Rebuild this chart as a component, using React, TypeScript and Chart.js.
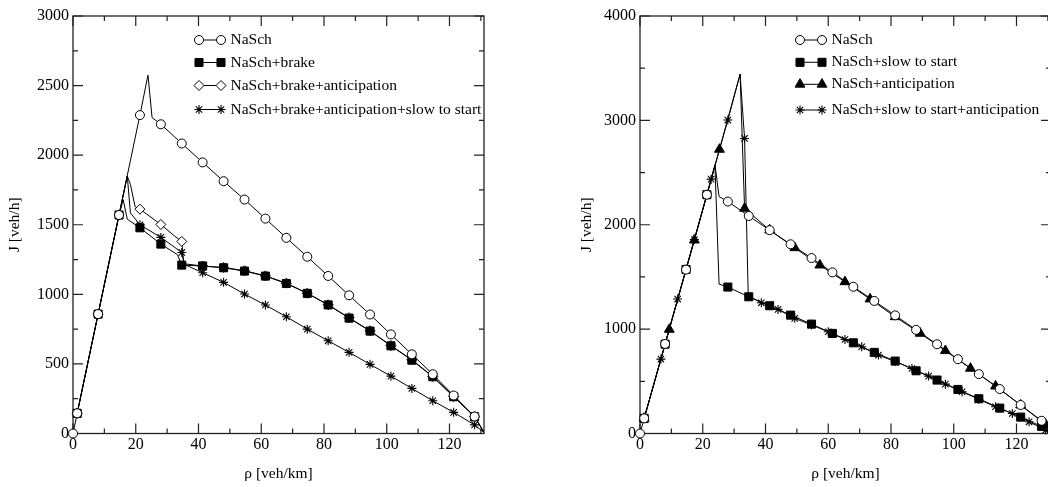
import React, { useEffect, useRef } from 'react';
import { Chart, registerables } from 'chart.js';
import { drawPoint } from 'chart.js/helpers';

Chart.register(...registerables);

const FONT = "'Liberation Serif', 'Times New Roman', Times, serif";

// ---------- shared axis info ----------
const X_MAX = 131;
const X_TICK_STEP = 20;
const X_MINOR_STEP = 10;

// ---------- NaSch (both panels) ----------
const naschRho = [0, 1.33, 8, 14.67, 21.33, 28, 34.67, 41.33, 48, 54.67, 61.33, 68, 74.67, 81.33, 88, 94.67, 101.33, 108, 114.67, 121.33, 128];
const naschJ = [0, 145, 858, 1570, 2288, 2222, 2084, 1948, 1813, 1681, 1544, 1406, 1270, 1132, 993, 855, 712, 569, 426, 273, 122];
const naschBendRho = [23.9, 25.2, 130.8];
const naschBendJ = [2575, 2270, 15];

// ---------- left panel ----------
const leftRho = [1.33, 8, 14.67, 21.33, 28, 34.67, 41.33, 48, 54.67, 61.33, 68, 74.67, 81.33, 88, 94.67, 101.33, 108, 114.67, 121.33, 128];

const brakeJ = [145, 858, 1570, 1478, 1361, 1210, 1204, 1191, 1167, 1131, 1078, 1007, 924, 829, 736, 630, 527, 408, 264, 120];
const brakeBendRho = [16.0, 17.3, 33.3, 130.8];
const brakeBendJ = [1680, 1540, 1285, 15];

const brakeAnticJ = [145, 858, 1570, 1612, 1502, 1380, 1203, 1193, 1170, 1133, 1080, 1008, 925, 832, 738, 632, 530, 410, 266, 122];
const brakeAnticBendRho = [17.3, 18.3, 19.8, 32.3, 35.3, 130.8];
const brakeAnticBendJ = [1850, 1790, 1630, 1420, 1220, 15];

const brakeAnticStsJ = [145, 858, 1570, 1500, 1409, 1301, 1155, 1086, 1002, 923, 839, 750, 666, 583, 497, 412, 324, 235, 152, 62];
const brakeAnticStsBendRho = [17.3, 18.3, 35.5, 130.8];
const brakeAnticStsBendJ = [1850, 1585, 1215, 10];

const leftLabels = ['NaSch', 'NaSch+brake', 'NaSch+brake+anticipation', 'NaSch+brake+anticipation+slow to start'];

// ---------- right panel ----------
const stsRho = [1.33, 8, 14.67, 21.33, 28, 34.67, 41.33, 48, 54.67, 61.33, 68, 74.67, 81.33, 88, 94.67, 101.33, 108, 114.67, 121.33, 128];
const stsJ = [145, 856, 1572, 2288, 1403, 1310, 1224, 1134, 1048, 959, 869, 777, 694, 601, 512, 422, 333, 243, 157, 68];
const stsBendRho = [23.9, 25.2, 130.8];
const stsBendJ = [2565, 1431, 5];

const anticRho = [1.33, 9.33, 17.33, 25.33, 33.33, 41.33, 49.33, 57.33, 65.33, 73.33, 81.33, 89.33, 97.33, 105.33, 113.33, 121.33, 129.33];
const anticJ = [145, 997, 1853, 2722, 2157, 1949, 1779, 1613, 1453, 1288, 1118, 959, 793, 624, 454, 272, 85];
const anticBendRho = [31.9];
const anticBendJ = [3443];

const stsAnticRho = [1.33, 6.67, 12, 17.33, 22.67, 28, 33.33, 38.67, 44, 49.33, 54.67, 60, 65.33, 70.67, 76, 81.33, 86.67, 92, 97.33, 102.67, 108, 113.33, 118.67, 124, 129.33];
const stsAnticJ = [145, 713, 1288, 1858, 2437, 3003, 2827, 1252, 1189, 1103, 1040, 975, 901, 831, 751, 690, 623, 550, 473, 400, 328, 256, 192, 112, 33];
const stsAnticBendRho = [31.9, 34.5];
const stsAnticBendJ = [3443, 1320];

const rightLabels = ['NaSch', 'NaSch+slow to start', 'NaSch+anticipation', 'NaSch+slow to start+anticipation'];

// ---------- helpers ----------
type Pt = { x: number; y: number; m: boolean };
function buildPoints(rho: number[], J: number[], bendRho: number[], bendJ: number[]): Pt[] {
  const pts: Pt[] = rho
    .map((x, i) => ({ x, y: J[i], m: true }))
    .concat(bendRho.map((x, i) => ({ x, y: bendJ[i], m: false })));
  pts.sort((a, b) => a.x - b.x);
  return pts;
}

type Mk = { pointStyle: string; radius: number; fill: string; bw: number };
const CIRCLE: Mk = { pointStyle: 'circle', radius: 4.5, fill: '#ffffff', bw: 1 };
const SQUARE: Mk = { pointStyle: 'rect', radius: 5.7, fill: '#000000', bw: 1 };
const DIAMOND: Mk = { pointStyle: 'rectRot', radius: 5, fill: '#ffffff', bw: 1 };
const STAR: Mk = { pointStyle: 'star', radius: 4.5, fill: '#000000', bw: 1.1 };
const TRIANGLE: Mk = { pointStyle: 'triangle', radius: 5.7, fill: '#000000', bw: 1 };

function makeDataset(label: string, pts: Pt[], mk: Mk) {
  return {
    label,
    data: pts,
    borderColor: '#000',
    borderWidth: 1,
    tension: 0,
    fill: false,
    pointStyle: mk.pointStyle,
    pointRadius: (c: any) => (c.raw && c.raw.m ? mk.radius : 0),
    pointBackgroundColor: mk.fill,
    pointBorderColor: '#000',
    pointBorderWidth: mk.bw,
    pointHoverRadius: 0,
    pointHitRadius: 0,
    clip: false,
  };
}

const framePlugin = {
  id: 'frame',
  beforeDatasetsDraw(chart: any, _a: any, opts: any) {
    const { ctx, chartArea, scales } = chart;
    const { left, right, top, bottom } = chartArea;
    const xs = scales.x;
    const ys = scales.y;
    ctx.save();
    ctx.strokeStyle = '#222';
    ctx.lineWidth = 1.3;
    ctx.strokeRect(left, top, right - left, bottom - top);
    ctx.beginPath();
    ctx.lineWidth = 1.2;
    for (let v = xs.min; v <= xs.max + 1e-9; v += opts.xMinor) {
      const p = xs.getPixelForValue(v);
      const len = Math.abs(v % opts.xMajor) < 1e-6 ? 10 : 5;
      ctx.moveTo(p, bottom);
      ctx.lineTo(p, bottom - len);
      ctx.moveTo(p, top);
      ctx.lineTo(p, top + len);
    }
    for (let v = ys.min; v <= ys.max + 1e-9; v += opts.yMinor) {
      const p = ys.getPixelForValue(v);
      const len = Math.abs(v % opts.yMajor) < 1e-6 ? 10 : 5;
      ctx.moveTo(left, p);
      ctx.lineTo(left + len, p);
      ctx.moveTo(right, p);
      ctx.lineTo(right - len, p);
    }
    ctx.stroke();
    ctx.restore();
  },
};

const legendPlugin = {
  id: 'xmLegend',
  afterDatasetsDraw(chart: any, _a: any, opts: any) {
    const { ctx, chartArea } = chart;
    const x0 = chartArea.left + opts.dx;
    const x1 = x0 + opts.len;
    chart.data.datasets.forEach((ds: any, i: number) => {
      const yy = chartArea.top + opts.rows[i];
      const mk: Mk = opts.markers[i];
      ctx.save();
      ctx.strokeStyle = '#000';
      ctx.lineWidth = 1;
      ctx.beginPath();
      ctx.moveTo(x0, yy);
      ctx.lineTo(x1, yy);
      ctx.stroke();
      const po = { pointStyle: mk.pointStyle, radius: mk.radius, rotation: 0, borderWidth: mk.bw };
      ctx.fillStyle = mk.fill;
      ctx.strokeStyle = '#000';
      ctx.lineWidth = mk.bw;
      drawPoint(ctx, po as any, x0, yy);
      ctx.fillStyle = mk.fill;
      ctx.strokeStyle = '#000';
      ctx.lineWidth = mk.bw;
      drawPoint(ctx, po as any, x1, yy);
      ctx.fillStyle = '#000';
      ctx.font = `15.5px ${FONT}`;
      ctx.textBaseline = 'middle';
      ctx.textAlign = 'left';
      ctx.fillText(ds.label, x1 + opts.gap, yy);
      ctx.restore();
    });
  },
};

function makeConfig(
  datasets: any[],
  markers: Mk[],
  yMax: number,
  yStep: number,
  yMinor: number,
  yAxisWidth: number,
  yTitlePad: number,
  padRight: number,
  legendDx: number,
  legendRows: number[]
): any {
  const tickFont = { family: FONT, size: 16 };
  const titleFont = { family: FONT, size: 15.5 };
  return {
    type: 'line',
    data: { datasets },
    plugins: [framePlugin, legendPlugin],
    options: {
      responsive: false,
      animation: false,
      devicePixelRatio: 1,
      events: [],
      layout: { padding: { top: 16, right: padRight, bottom: 0, left: 0 } },
      plugins: {
        legend: { display: false },
        tooltip: { enabled: false },
        frame: { xMajor: X_TICK_STEP, xMinor: X_MINOR_STEP, yMajor: yStep, yMinor },
        xmLegend: { dx: legendDx, len: 22, gap: 9.5, rows: legendRows, markers },
      },
      scales: {
        x: {
          type: 'linear',
          min: 0,
          max: X_MAX,
          afterFit: (s: any) => {
            s.height = 53.5;
          },
          grid: { display: false, drawTicks: false },
          border: { display: false },
          ticks: {
            stepSize: X_TICK_STEP,
            includeBounds: false,
            padding: 2,
            maxRotation: 0,
            autoSkip: false,
            color: '#000',
            font: tickFont,
            callback: (v: any) => String(v),
          },
          title: {
            display: true,
            text: 'ρ [veh/km]',
            color: '#000',
            font: titleFont,
            padding: { top: 0, bottom: 4 },
          },
        },
        y: {
          type: 'linear',
          min: 0,
          max: yMax,
          afterFit: (s: any) => {
            s.width = yAxisWidth;
          },
          grid: { display: false, drawTicks: false },
          border: { display: false },
          ticks: {
            stepSize: yStep,
            includeBounds: false,
            padding: 4,
            autoSkip: false,
            color: '#000',
            font: tickFont,
            callback: (v: any) => String(v),
          },
          title: {
            display: true,
            text: 'J [veh/h]',
            color: '#000',
            font: titleFont,
            padding: { top: yTitlePad, bottom: 0 },
          },
        },
      },
    },
  };
}

export default function App() {
  const leftRef = useRef<HTMLCanvasElement>(null);
  const rightRef = useRef<HTMLCanvasElement>(null);

  useEffect(() => {
    const naschPts = buildPoints(naschRho, naschJ, naschBendRho, naschBendJ);

    const leftMarkers = [CIRCLE, SQUARE, DIAMOND, STAR];
    const leftSets = [
      makeDataset(leftLabels[0], naschPts, CIRCLE),
      makeDataset(leftLabels[1], buildPoints(leftRho, brakeJ, brakeBendRho, brakeBendJ), SQUARE),
      makeDataset(leftLabels[2], buildPoints(leftRho, brakeAnticJ, brakeAnticBendRho, brakeAnticBendJ), DIAMOND),
      makeDataset(leftLabels[3], buildPoints(leftRho, brakeAnticStsJ, brakeAnticStsBendRho, brakeAnticStsBendJ), STAR),
    ];

    const rightMarkers = [CIRCLE, SQUARE, TRIANGLE, STAR];
    const rightSets = [
      makeDataset(rightLabels[0], naschPts, CIRCLE),
      makeDataset(rightLabels[1], buildPoints(stsRho, stsJ, stsBendRho, stsBendJ), SQUARE),
      makeDataset(rightLabels[2], buildPoints(anticRho, anticJ, anticBendRho, anticBendJ), TRIANGLE),
      makeDataset(rightLabels[3], buildPoints(stsAnticRho, stsAnticJ, stsAnticBendRho, stsAnticBendJ), STAR),
    ];

    const c1 = new Chart(
      leftRef.current as HTMLCanvasElement,
      makeConfig(leftSets, leftMarkers, 3000, 500, 250, 73, 6, 46, 126, [24, 46.5, 69.5, 93.5])
    );
    const c2 = new Chart(
      rightRef.current as HTMLCanvasElement,
      makeConfig(rightSets, rightMarkers, 4000, 1000, 500, 110, 48, 9, 160, [24, 46.3, 68.3, 94])
    );
    return () => {
      c1.destroy();
      c2.destroy();
    };
  }, []);

  return (
    <div
      style={{
        position: 'absolute',
        left: 0,
        top: 0,
        width: 1048,
        height: 487,
        overflow: 'hidden',
        background: '#fff',
      }}
    >
      <canvas ref={leftRef} width={530} height={487} style={{ position: 'absolute', left: 0, top: 0 }} />
      <canvas ref={rightRef} width={530} height={487} style={{ position: 'absolute', left: 530, top: 0 }} />
    </div>
  );
}
